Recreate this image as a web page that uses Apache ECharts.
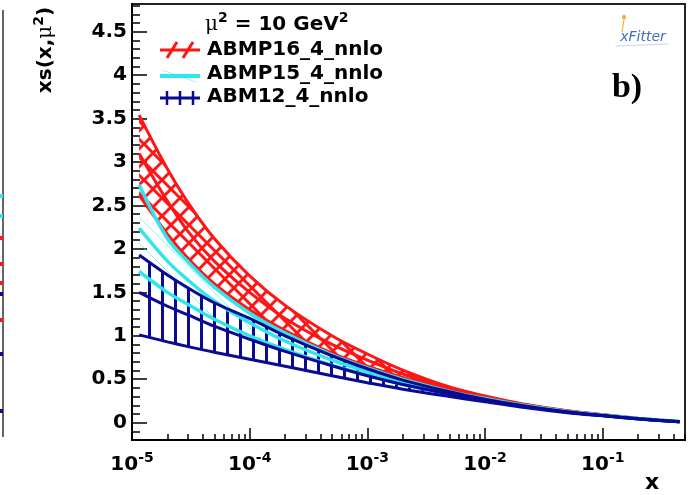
<!DOCTYPE html>
<html><head><meta charset="utf-8">
<script src="https://cdn.jsdelivr.net/npm/echarts@6/dist/echarts.min.js"></script>
<style>html,body{margin:0;padding:0;background:#fff}#c{width:691px;height:495px}</style>
</head><body><div id="c"></div>
<script>
// ---- data ----
const xValues   = [1.15e-5, 2e-5, 3e-5, 5e-5, 1e-4, 2e-4, 5e-4, 1e-3, 2e-3, 5e-3, 1e-2, 2e-2, 5e-2, 0.1, 0.2, 0.3, 0.45];
const abmp16Up  = [3.54, 2.92, 2.53, 2.12, 1.69, 1.35, 1.00, 0.79, 0.605, 0.41, 0.306, 0.22, 0.136, 0.092, 0.050, 0.030, 0.012];
const abmp16Mid = [3.10, 2.55, 2.20, 1.86, 1.50, 1.20, 0.90, 0.72, 0.56, 0.39, 0.295, 0.215, 0.133, 0.090, 0.049, 0.030, 0.012];
const abmp16Lo  = [2.62, 2.17, 1.89, 1.60, 1.30, 1.06, 0.80, 0.65, 0.52, 0.37, 0.285, 0.21, 0.130, 0.088, 0.048, 0.029, 0.012];
const abmp15Up  = [2.74, 2.12, 1.85, 1.56, 1.26, 1.03, 0.78, 0.63, 0.50, 0.36, 0.278, 0.205, 0.128, 0.086, 0.047, 0.028, 0.012];
const abmp15Mid = [2.24, 1.86, 1.64, 1.40, 1.15, 0.94, 0.72, 0.59, 0.47, 0.345, 0.27, 0.20, 0.125, 0.084, 0.046, 0.027, 0.011];
const abmp15Lo  = [1.74, 1.50, 1.36, 1.19, 1.00, 0.84, 0.66, 0.55, 0.44, 0.33, 0.26, 0.195, 0.122, 0.082, 0.045, 0.027, 0.011];
const abm12Up   = [1.93, 1.70, 1.55, 1.38, 1.20, 1.00, 0.77, 0.62, 0.49, 0.355, 0.27, 0.20, 0.124, 0.083, 0.045, 0.027, 0.011];
const abm12Mid  = [1.50, 1.34, 1.24, 1.11, 0.96, 0.82, 0.655, 0.54, 0.44, 0.33, 0.255, 0.19, 0.120, 0.081, 0.044, 0.026, 0.011];
const abm12Lo   = [1.01, 0.93, 0.875, 0.81, 0.73, 0.65, 0.54, 0.46, 0.385, 0.30, 0.24, 0.18, 0.115, 0.078, 0.043, 0.025, 0.010];
const seriesNames = ['ABMP16_4_nnlo', 'ABMP15_4_nnlo', 'ABM12_4_nnlo'];
const xMajorTicks = [1e-5, 1e-4, 1e-3, 1e-2, 1e-1];
const yMajorTicks = [0, 0.5, 1, 1.5, 2, 2.5, 3, 3.5, 4, 4.5];

// ---- helpers ----
const xMinorTicks = [];
[1e-5, 1e-4, 1e-3, 1e-2, 1e-1].forEach(d => { for (let k = 2; k <= 9; k++) { const v = +(d * k).toPrecision(3); if (v <= 0.5) xMinorTicks.push(v); } });
const yMinorTicks = [];
for (let i = -1; i <= 48; i++) { if (i % 5 !== 0) yMinorTicks.push(i / 10); }

const RED = '#ff1515', CYAN = '#30e6ec', BLUE = '#0a0a92';
const FONT = "'DejaVu Sans', sans-serif";

function pattern(kind, color, lw, size) {
  const c = document.createElement('canvas');
  c.width = size; c.height = size;
  const g = c.getContext('2d');
  g.strokeStyle = color; g.lineWidth = lw;
  g.beginPath();
  if (kind.indexOf('\\') >= 0) {
    for (let k = -1; k <= 1; k++) { g.moveTo(k * size, 0); g.lineTo(k * size + size, size); }
  }
  if (kind.indexOf('/') >= 0) {
    for (let k = -1; k <= 1; k++) { g.moveTo(k * size, size); g.lineTo(k * size + size, 0); }
  }
  if (kind.indexOf('|') >= 0) { g.moveTo(size / 2, 0); g.lineTo(size / 2, size); }
  g.stroke();
  return { image: c, repeat: 'repeat' };
}
const pairs = arr => xValues.map((x, i) => [x, arr[i]]);

function band(name, up, mid, lo, color, fill, lw) {
  const common = { type: 'line', symbol: 'none', smooth: 0.35, silent: true, animation: false, clip: true };
  return [
    {
      type: 'custom', name: name + ' band', silent: true, animation: false, clip: true,
      data: [[xValues[0], lo[0]]],
      renderItem: function (params, api) {
        const top = up.map((v, i) => api.coord([xValues[i], v]));
        const bottom = lo.map((v, i) => api.coord([xValues[i], v])).reverse();
        return { type: 'polygon', shape: { points: top.concat(bottom) }, style: { fill: fill, stroke: null } };
      }
    },
    Object.assign({}, common, { name: name, data: pairs(up), lineStyle: { color: color, width: lw } }),
    Object.assign({}, common, { name: name + ' central', data: pairs(mid), lineStyle: { color: color, width: lw } }),
    Object.assign({}, common, { name: name + ' low', data: pairs(lo), lineStyle: { color: color, width: lw } })
  ];
}

const series = [].concat(
  band(seriesNames[0], abmp16Up, abmp16Mid, abmp16Lo, RED, pattern('\\/', RED, 3, 18), 3),
  band(seriesNames[1], abmp15Up, abmp15Mid, abmp15Lo, CYAN, pattern('\\', 'rgba(48,230,236,0.55)', 1, 26), 3.5),
  band(seriesNames[2], abm12Up, abm12Mid, abm12Lo, BLUE, pattern('|', BLUE, 3, 13), 3)
);

const supRich = {
  b: { fontFamily: FONT, fontWeight: 'bold', fontSize: 20, lineHeight: 24, verticalAlign: 'bottom', color: '#000' },
  s: { fontFamily: FONT, fontWeight: 'bold', fontSize: 14, lineHeight: 14, verticalAlign: 'top', color: '#000' },
  m: { fontFamily: "'DejaVu Serif', serif", fontSize: 20, lineHeight: 24, verticalAlign: 'bottom', color: '#000' }
};

const chart = echarts.init(document.getElementById('c'), null, { renderer: 'canvas' });
chart.setOption({
  animation: false,
  backgroundColor: '#fff',
  grid: { left: 132, right: 6, top: 4, bottom: 55, show: true, borderColor: '#222', borderWidth: 2, backgroundColor: 'transparent' },
  xAxis: [
    {
      type: 'log', logBase: 10, min: 1e-5, max: 0.5, position: 'bottom',
      axisLine: { show: true, onZero: false, lineStyle: { color: '#000', width: 2 } },
      axisTick: { show: true, inside: true, length: 12, customValues: xMajorTicks, lineStyle: { color: '#000', width: 1.5 } },
      axisLabel: {
        customValues: xMajorTicks, margin: 11,
        formatter: v => '{b|10}{s|' + Math.round(Math.log10(v)) + '}',
        rich: supRich
      },
      splitLine: { show: false }, minorTick: { show: false }
    },
    {
      type: 'log', logBase: 10, min: 1e-5, max: 0.5, position: 'bottom',
      axisLine: { show: false, onZero: false },
      axisTick: { show: true, inside: true, length: 6, customValues: xMinorTicks, lineStyle: { color: '#000', width: 1.5 } },
      axisLabel: { show: false }, splitLine: { show: false }
    }
  ],
  yAxis: [
    {
      type: 'value', min: -0.2, max: 4.82,
      axisLine: { show: true, onZero: false, lineStyle: { color: '#000', width: 2 } },
      axisTick: { show: true, inside: true, length: 15, customValues: yMajorTicks, lineStyle: { color: '#000', width: 1.5 } },
      axisLabel: { customValues: yMajorTicks, margin: 5, color: '#000', fontFamily: FONT, fontWeight: 'bold', fontSize: 20, formatter: v => String(v) },
      splitLine: { show: false }
    },
    {
      type: 'value', min: -0.2, max: 4.82, position: 'left',
      axisLine: { show: false, onZero: false },
      axisTick: { show: true, inside: true, length: 8, customValues: yMinorTicks, lineStyle: { color: '#000', width: 1.5 } },
      axisLabel: { show: false }, splitLine: { show: false }
    }
  ],
  series: series,
  graphic: [
    // y axis title
    { type: 'text', x: 44, y: 50, rotation: Math.PI / 2, style: { text: '{b|xs(x,}{m|μ}{s|2}{b|)}', rich: supRich, align: 'center', verticalAlign: 'middle' } },
    // x axis title
    { type: 'text', x: 652, y: 483, style: { text: 'x', font: 'bold 22px ' + FONT, fill: '#000', align: 'center', verticalAlign: 'middle' } },
    // legend header
    { type: 'text', x: 205, y: 23, style: { text: '{m|μ}{s|2}{b| = 10 GeV}{s|2}', rich: supRich, align: 'left', verticalAlign: 'middle' } },
    // legend entries
    { type: 'line', shape: { x1: 160, y1: 50, x2: 200, y2: 50 }, style: { stroke: RED, lineWidth: 3 } },
    { type: 'line', shape: { x1: 167, y1: 58, x2: 177, y2: 42 }, style: { stroke: RED, lineWidth: 3 } },
    { type: 'line', shape: { x1: 183, y1: 58, x2: 193, y2: 42 }, style: { stroke: RED, lineWidth: 3 } },
    { type: 'text', x: 207, y: 50, style: { text: seriesNames[0], font: 'bold 20px ' + FONT, fill: '#000', verticalAlign: 'middle' } },
    { type: 'line', shape: { x1: 162, y1: 70, x2: 196, y2: 82 }, style: { stroke: 'rgba(48,230,236,0.5)', lineWidth: 1 } },
    { type: 'line', shape: { x1: 160, y1: 76, x2: 200, y2: 76 }, style: { stroke: CYAN, lineWidth: 4 } },
    { type: 'text', x: 207, y: 74, style: { text: seriesNames[1], font: 'bold 20px ' + FONT, fill: '#000', verticalAlign: 'middle' } },
    { type: 'line', shape: { x1: 160, y1: 98, x2: 200, y2: 98 }, style: { stroke: BLUE, lineWidth: 3 } },
    { type: 'line', shape: { x1: 167, y1: 91, x2: 167, y2: 105 }, style: { stroke: BLUE, lineWidth: 2.5 } },
    { type: 'line', shape: { x1: 180, y1: 91, x2: 180, y2: 105 }, style: { stroke: BLUE, lineWidth: 2.5 } },
    { type: 'line', shape: { x1: 193, y1: 91, x2: 193, y2: 105 }, style: { stroke: BLUE, lineWidth: 2.5 } },
    { type: 'text', x: 207, y: 97, style: { text: seriesNames[2], font: 'bold 20px ' + FONT, fill: '#000', verticalAlign: 'middle' } },
    // panel label and logo
    { type: 'text', x: 627, y: 88, style: { text: 'b)', font: 'bold 34px "Liberation Serif", serif', fill: '#000', align: 'center', verticalAlign: 'middle' } },
    { type: 'text', x: 643, y: 37, style: { text: 'xFitter', font: 'italic 14px ' + FONT, fill: '#3f6fc6', align: 'center', verticalAlign: 'middle' } },
    { type: 'circle', shape: { cx: 624, cy: 17, r: 2.2 }, style: { fill: '#f2b233' } },
    { type: 'line', shape: { x1: 624, y1: 19, x2: 622, y2: 32 }, style: { stroke: '#f2b233', lineWidth: 1.2 } },
    { type: 'line', shape: { x1: 616, y1: 46, x2: 668, y2: 44 }, style: { stroke: '#c8d4e6', lineWidth: 1 } },
    // neighbouring panel edge on the far left
    { type: 'line', shape: { x1: 3, y1: 10, x2: 3, y2: 437 }, style: { stroke: '#333', lineWidth: 1.5 } },
    { type: 'rect', shape: { x: 0, y: 194, width: 3, height: 4 }, style: { fill: CYAN } },
    { type: 'rect', shape: { x: 0, y: 214, width: 3, height: 4 }, style: { fill: CYAN } },
    { type: 'rect', shape: { x: 0, y: 236, width: 3, height: 4 }, style: { fill: RED } },
    { type: 'rect', shape: { x: 0, y: 262, width: 3, height: 4 }, style: { fill: RED } },
    { type: 'rect', shape: { x: 0, y: 281, width: 3, height: 4 }, style: { fill: RED } },
    { type: 'rect', shape: { x: 0, y: 292, width: 3, height: 4 }, style: { fill: BLUE } },
    { type: 'rect', shape: { x: 0, y: 318, width: 3, height: 4 }, style: { fill: RED } },
    { type: 'rect', shape: { x: 0, y: 352, width: 3, height: 4 }, style: { fill: BLUE } },
    { type: 'rect', shape: { x: 0, y: 409, width: 3, height: 4 }, style: { fill: BLUE } }
  ]
});
</script></body></html>
